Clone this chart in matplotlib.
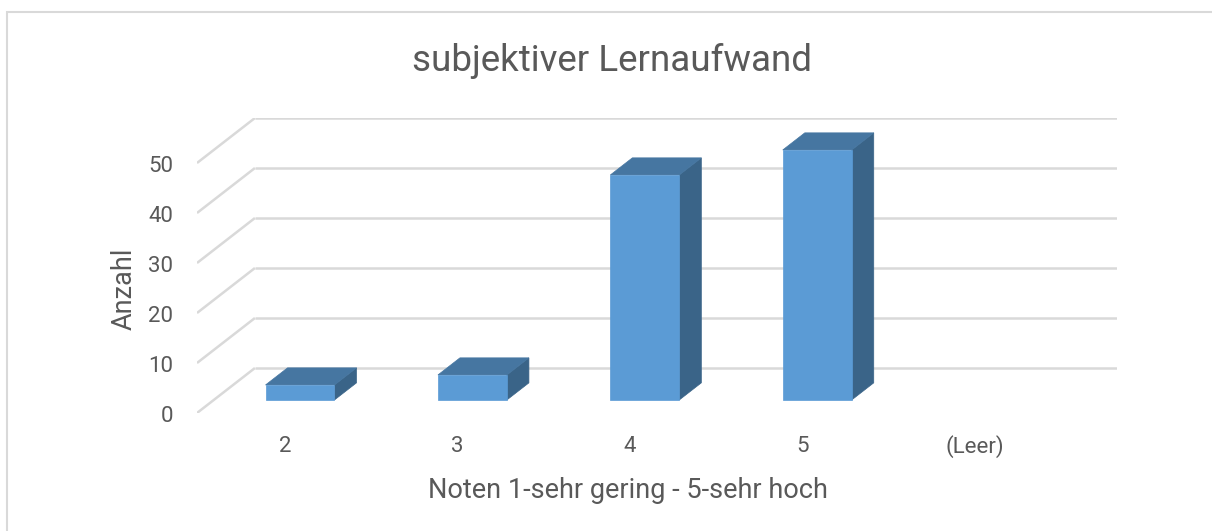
import matplotlib.pyplot as plt
from matplotlib.patches import Polygon, Rectangle
from matplotlib.transforms import offset_copy

categories = ["2", "3", "4", "5", "(Leer)"]
counts = [3, 5, 45, 50, 0]
y_ticks = [0, 10, 20, 30, 40, 50]

title = "subjektiver Lernaufwand"
x_label = "Noten 1-sehr gering - 5-sehr hoch"
y_label = "Anzahl"

# fake 3d: a point at depth d (0 = front, 1 = back wall) is shifted by d*(DX, DY)
DX = 0.336
DY = 9.0
BAR_W = 0.40
D_FRONT = 0.29
D_BACK = 0.67

front_col = "#5b9bd5"
top_col = "#4676a1"
side_col = "#3a6488"
grid_col = "#d9d9d9"
text_col = "#595959"

plt.rcParams["font.family"] = ["Roboto", "DejaVu Sans"]

W, H = 1212, 531
fig = plt.figure(figsize=(W / 100, H / 100), dpi=100)

# axes box in pixels: front-left corner of floor at (197, 413), back wall top-right at (1117, ~118)
left, right, bottom_px, top_px = 197, 1117, 413, 118
ax = fig.add_axes([left / W, (H - bottom_px) / H, (right - left) / W, (bottom_px - top_px) / H])
n = len(categories)
ax.set_xlim(0, n + DX)
ax.set_ylim(0, (bottom_px - top_px) / 5.0)
ax.axis("off")


def pt(x, y, d):
    return (x + d * DX, y + d * DY)


# gridlines on back wall + diagonal lines on the left wall
for v in y_ticks:
    x0, y0 = pt(0, v, 1)
    x1, y1 = pt(n, v, 1)
    ax.plot([x0, x1], [y0, y1], color=grid_col, lw=1.8, solid_capstyle="butt", zorder=1)
    fx, fy = pt(0, v, 0)
    ax.plot([fx, x0], [fy, y0], color=grid_col, lw=1.8, solid_capstyle="butt", zorder=1)

tick_tr = offset_copy(ax.transData, fig=fig, x=-24, y=-3, units="dots")
for v in y_ticks:
    ax.text(0, v, str(v), transform=tick_tr, ha="right", va="center",
            fontsize=16, color=text_col, clip_on=False)

# bars
for i, v in enumerate(counts):
    if v <= 0:
        continue
    c = i + 0.5
    xl, xr = c - BAR_W / 2, c + BAR_W / 2
    front = [pt(xl, 0, D_FRONT), pt(xr, 0, D_FRONT), pt(xr, v, D_FRONT), pt(xl, v, D_FRONT)]
    top = [pt(xl, v, D_FRONT), pt(xr, v, D_FRONT), pt(xr, v, D_BACK), pt(xl, v, D_BACK)]
    side = [pt(xr, 0, D_FRONT), pt(xr, v, D_FRONT), pt(xr, v, D_BACK), pt(xr, 0, D_BACK)]
    ax.add_patch(Polygon(side, closed=True, facecolor=side_col, edgecolor=side_col, lw=0.5, zorder=3))
    ax.add_patch(Polygon(top, closed=True, facecolor=top_col, edgecolor=top_col, lw=0.5, zorder=3))
    ax.add_patch(Polygon(front, closed=True, facecolor=front_col, edgecolor=front_col, lw=0.5, zorder=4))

cat_tr = offset_copy(ax.transData, fig=fig, x=2, y=-34, units="dots")
for i, lab in enumerate(categories):
    ax.text(i + 0.5, 0, lab, transform=cat_tr, ha="center", va="center",
            fontsize=16, color=text_col, clip_on=False)

fig.text(628 / W, 1 - 491 / H, x_label, ha="center", va="center", fontsize=19.5, color=text_col)
fig.text(124 / W, 1 - 289 / H, y_label, ha="center", va="center", rotation=90,
         fontsize=19.5, color=text_col)
fig.text(612 / W, 1 - 61 / H, title, ha="center", va="center", fontsize=26.5, color=text_col)

# chart border (only left and top edges fall inside the picture)
fig.add_artist(Rectangle((7 / W, -0.1), 1.2, (H - 12) / H + 0.1, transform=fig.transFigure,
                         fill=False, edgecolor=grid_col, lw=1.5))

fig.savefig("out.png", dpi=100)
